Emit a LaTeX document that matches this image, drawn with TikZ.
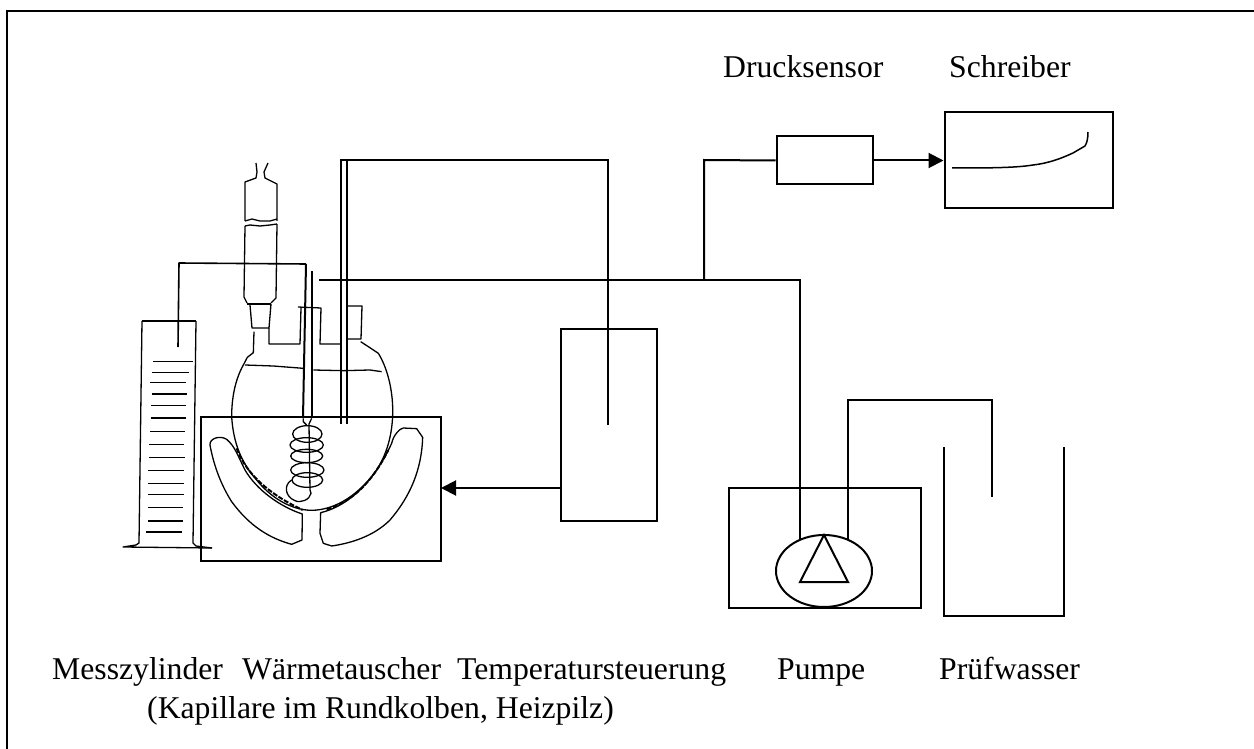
\documentclass[tikz,border=0pt]{standalone}
\usepackage{fontspec}
\setmainfont{Liberation Serif}
\usetikzlibrary{arrows.meta,shapes.geometric}
\tikzset{
  ln/.style={draw=black,line width=2pt,line join=miter},
  glass/.style={draw=black,line width=1.3pt,line join=round},
  boxn/.style={draw=black,line width=2pt,inner sep=0pt,anchor=north west},
  lab/.style={anchor=base west,inner sep=0pt,font=\fontsize{31.7pt}{36pt}\selectfont},
  tip/.style={-{Triangle[length=15pt,width=15pt]}}
}
\begin{document}
\begin{tikzpicture}[x=1pt,y=-1pt]
\useasboundingbox (0,0) rectangle (1254,749);
\draw[ln] (7,749) -- (7,11) -- (1254,11);
% labels
\node[lab] (t1) at (52,679) {Messzylinder};
\node[lab] (t2) at (242,679) {Wärmetauscher};
\node[lab] (t3) at (457,679) {Temperatursteuerung};
\node[lab] (t4) at (777,679) {Pumpe};
\node[lab] (t5) at (939,679) {Prüfwasser};
\node[lab] (t6) at (147,718) {(Kapillare im Rundkolben, Heizpilz)};
\node[lab] (t7) at (723,78) {Drucksensor};
\node[lab] (t8) at (949,78) {Schreiber};
% boxes
\node[boxn,minimum width=96pt,minimum height=48pt] (sens) at (775.5,135.5) {};
\node[boxn,minimum width=168pt,minimum height=96pt] (rec) at (943.5,111.5) {};
\node[boxn,minimum width=96pt,minimum height=192pt] (temp) at (559.5,327.5) {};
\node[boxn,minimum width=240pt,minimum height=144pt] (heat) at (199.5,415.5) {};
\node[boxn,minimum width=192pt,minimum height=120pt] (pbox) at (727.5,486.5) {};
\node[draw=black,line width=2pt,ellipse,minimum width=96pt,minimum height=72pt,inner sep=0pt] (pump) at (824,571) {};
\coordinate (ptop) at (824,535);
\coordinate (pl) at (800,582);
\coordinate (pr) at (848,582);
\draw[ln] (ptop) -- (pl) -- (pr) -- cycle;
% connectors
\coordinate (j) at (704,280);
\coordinate (capend) at (319,280);
\coordinate (p1) at (800,539);
\coordinate (p2) at (848,539);
\coordinate (wend) at (992,497);
\coordinate (hA) at (560,488);
\coordinate (hB) at (441,488);
\draw[ln] (capend) -- (j) -- (800,280) -- (p1);
\draw[ln] (j) -- (704,160) -- (sens.west);
\draw[ln,tip] (sens.east) -- (rec.west);
\draw[ln] (p2) -- (848,400) -- (992,400) -- (wend);
\draw[ln,tip] (hA) -- (hB);
% thermo
\coordinate (th) at (608,425);
\draw[ln] (th) -- (608,160) -- (347,160) -- (347,424);
\draw[ln,line width=2.4pt] (341,160) -- (341,424);
\draw[ln] (340,160) -- (347,160);
% beaker
\draw[ln] (944,447) -- (944,616) -- (1064,616) -- (1064,447);
% recorder trace
\draw[ln,line width=1.5pt] (952,168) .. controls (985,168) and (1015,168) .. (1033,165) .. controls (1050,163) and (1062,158) .. (1073,153) -- (1085,146) .. controls (1087,143) and (1088,138) .. (1088,132);
% condenser
\draw[glass] (256,163) -- (257,172) -- (256,178) -- (245,182) -- (245,221);
\draw[glass] (268,163) -- (264,172) -- (265,178) -- (277,184) -- (277,221);
\draw[glass] (245,221) -- (252,219) -- (260,221) -- (270,221) -- (277,219);
\draw[glass] (245,226) -- (250,225) -- (260,226) -- (270,225) -- (277,224);
\draw[glass] (245,226) -- (244,297) -- (247,303);
\draw[glass] (277,224) -- (276,298) -- (271,303);
\draw[glass] (247,304) -- (271,304);
\draw[glass] (250,305) -- (252,328) -- (269,328) -- (271,304);
% necks
\draw[glass] (269,328) -- (269,344) -- (300,344) -- (301,308);
\draw[glass] (298,307) -- (321,308) -- (320,344) -- (341,344);
\draw[glass] (347,306) -- (362,306) -- (361,339) -- (347,339);
% overflow line to cylinder
\draw[glass,line width=1.6pt] (178,347) -- (179,263) -- (306,264);
\draw[glass,line width=2pt] (306,264) -- (303,418);
\draw[glass] (312,271) -- (312,418);
% cylinder
\draw[glass] (142,321) -- (196,321);
\draw[glass] (142,321) -- (139,543) -- (136,545) -- (123,547) -- (212,548);
\draw[glass] (196,321) -- (193,543) -- (196,546) -- (212,548);
\begin{scope}[shift={(110,330)},x=1/3*1pt,y=-1/3*1pt]
\foreach \yy/\xa/\xb in {95/130/248,128/125/236,158/120/228,192/125/232,227/124/228,264/122/228,304/120/226,344/117/222,382/117/225,421/115/222,460/115/221,494/115/223,533/114/218,573/114/218,606/109/217}
  \draw[draw=black,line width=1.3pt] (\xa,\yy) -- (\xb,\yy);
% flask
\draw[glass] (432,5) -- (430,68) -- (412,82) -- (400,105) .. controls (375,150) and (365,205) .. (365,260)
  .. controls (370,340) and (395,400) .. (440,450) .. controls (480,500) and (540,540) .. (605,541)
  .. controls (680,540) and (750,490) .. (800,420) .. controls (835,365) and (850,300) .. (848,230)
  .. controls (846,170) and (830,110) .. (805,70) -- (775,50) -- (752,35);
\draw[glass] (405,105) -- (490,108) -- (580,115);
\draw[glass] (610,120) -- (700,122) -- (780,120) -- (815,125);
% thicker contact zone
\draw[draw=black,line width=2pt,dash pattern=on 5pt off 1.5pt] (380,355) .. controls (400,410) and (450,480) .. (578,540);
\draw[draw=black,line width=2pt,dash pattern=on 5pt off 1.5pt] (650,538) .. controls (730,515) and (790,450) .. (835,360);
% mantle
\draw[glass] (300,345) .. controls (298,325) and (330,315) .. (350,328) .. controls (375,350) and (380,370) .. (405,420)
  .. controls (440,480) and (510,530) .. (577,552) -- (576,630) -- (545,643) .. controls (480,625) and (420,590) .. (365,515)
  .. controls (330,460) and (310,400) .. (300,345) -- cycle;
\draw[glass] (632,548) .. controls (710,530) and (790,460) .. (845,340) .. controls (850,315) and (870,295) .. (880,294)
  -- (920,296) -- (938,322) .. controls (935,420) and (900,500) .. (840,570) .. controls (790,620) and (720,640) .. (665,648)
  -- (640,640) -- (630,610) -- cycle;
% coil
\draw[glass] (580,265) -- (580,275) -- (590,285);
\draw[glass] (605,265) -- (597,282) -- (600,480) -- (603,490) .. controls (600,510) and (570,520) .. (555,512)
  .. controls (525,500) and (520,465) .. (545,450);
\foreach \cx/\cy/\rx/\ry in {592/312/44/25,590/345/50/22,590/378/48/20,592/420/50/22,592/450/46/22}
  \draw[glass] (\cx,\cy) ellipse [x radius=\rx,y radius=\ry];
\end{scope}
\end{tikzpicture}
\end{document}
